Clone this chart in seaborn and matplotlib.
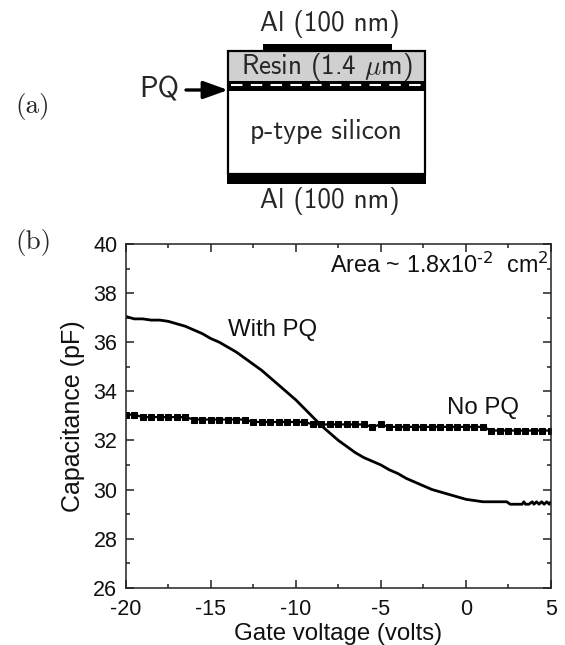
import matplotlib
matplotlib.use('Agg')
import matplotlib.pyplot as plt
from matplotlib.patches import Rectangle
from matplotlib.ticker import MultipleLocator
import pandas as pd
import seaborn as sns

# values
volts_pq = [-20, -19.5, -19, -18.5, -18, -17.5, -17, -16.5, -16, -15.5, -15, -14.5, -14, -13.5,
            -13, -12.5, -12, -11.5, -11, -10.5, -10, -9.5, -9, -8.5, -8, -7.5, -7, -6.5, -6,
            -5.5, -5, -4.5, -4, -3.5, -3, -2.5, -2, -1.5, -1, -0.5, 0, 0.5, 1, 1.5, 2, 2.4,
            2.6, 3, 3.3, 3.4, 3.5, 3.7, 3.9, 4.0, 4.15, 4.3, 4.45, 4.6, 4.75, 4.9, 5]
cap_pq = [37.05, 36.95, 36.95, 36.9, 36.9, 36.85, 36.75, 36.65, 36.5, 36.35, 36.15, 36.0, 35.8, 35.6,
          35.35, 35.1, 34.85, 34.55, 34.25, 33.95, 33.65, 33.3, 32.95, 32.6, 32.3, 32.0, 31.75, 31.5, 31.3,
          31.15, 31.0, 30.8, 30.65, 30.45, 30.3, 30.15, 30.0, 29.9, 29.8, 29.7, 29.6, 29.55, 29.5, 29.5, 29.5, 29.5,
          29.4, 29.4, 29.4, 29.5, 29.4, 29.4, 29.5, 29.4, 29.5, 29.4, 29.5, 29.4, 29.5, 29.4, 29.5]

volts_nopq = [-20 + 0.5 * i for i in range(51)]
cap_nopq = [33.05, 33.05, 32.95, 32.95, 32.95, 32.95, 32.95, 32.95, 32.85, 32.85, 32.85, 32.85, 32.85, 32.85, 32.85,
            32.75, 32.75, 32.75, 32.75, 32.75, 32.75, 32.75, 32.65, 32.65, 32.65, 32.65, 32.65, 32.65, 32.65, 32.55,
            32.65, 32.55, 32.55, 32.55, 32.55, 32.55, 32.55, 32.55, 32.55, 32.55, 32.55, 32.55, 32.55, 32.4, 32.4,
            32.4, 32.4, 32.4, 32.4, 32.4, 32.4]

x_ticks = [-20, -15, -10, -5, 0, 5]
y_ticks = [26, 28, 30, 32, 34, 36, 38, 40]

sns.set_theme(style="ticks")
plt.rcParams['font.family'] = ['Liberation Sans', 'DejaVu Sans']
plt.rcParams['mathtext.fontset'] = 'cm'
plt.rcParams['axes.unicode_minus'] = False

W, H = 565, 645
fig = plt.figure(figsize=(W / 100, H / 100), dpi=100, facecolor='white')

### panel b
ax = fig.add_axes([125.7 / W, 1 - 587.7 / H, 425.3 / W, 343.7 / H])
df_pq = pd.DataFrame({'v': volts_pq, 'c': cap_pq})
df_no = pd.DataFrame({'v': volts_nopq, 'c': cap_nopq})
sns.lineplot(data=df_pq, x='v', y='c', color='black', lw=2.0, ax=ax)
sns.lineplot(data=df_no, x='v', y='c', color='black', lw=1.6, marker='s', markersize=4.6,
             markeredgecolor='black', ax=ax)

ax.set_xlim(-20, 5)
ax.set_ylim(26, 40)
ax.set_xticks(x_ticks)
ax.set_yticks(y_ticks)
ax.xaxis.set_minor_locator(MultipleLocator(2.5))
ax.yaxis.set_minor_locator(MultipleLocator(1))
ax.tick_params(axis='both', which='major', direction='in', top=True, right=True, length=6, width=1.1,
               labelsize=15.5, color='#222222', labelcolor='#111111')
ax.tick_params(axis='x', which='major', pad=8)
ax.tick_params(axis='y', which='major', pad=6)
ax.tick_params(which='minor', direction='in', top=True, right=True, length=3.2, width=1.1, color='#222222')
for s in ax.spines.values():
    s.set_linewidth(1.1)
    s.set_color('#222222')
ax.set_xlabel('Gate voltage (volts)', fontsize=17.3, color='#111111', labelpad=2)
ax.set_ylabel('Capacitance (pF)', fontsize=18, color='#111111', labelpad=6)

ax.text(-14, 36.5, 'With PQ', fontsize=17.3, color='#111111', ha='left', va='center')
ax.text(-1.1, 33.32, 'No PQ', fontsize=17.3, color='#111111', ha='left', va='center')
ax.text(4.84, 39.14, 'Area ~ 1.8x10$^{\\text{-}2}$  cm$^{2}$', fontsize=16.8, color='#111111',
        ha='right', va='center', math_fontfamily='dejavusans')

### panel a, schematic drawn in picture pixels
sk = fig.add_axes([0, 0, 1, 1], facecolor='none')
sk.set_xlim(0, W)
sk.set_ylim(H, 0)
sk.axis('off')

sk.add_patch(Rectangle((228, 51), 197, 31, fc='#d0d0d0', ec='none'))
sk.add_patch(Rectangle((228, 51), 197, 123, fc='none', ec='black', lw=1.6))
sk.add_patch(Rectangle((263, 44), 129, 7, fc='black', ec='none'))
sk.add_patch(Rectangle((227, 174), 199, 10, fc='black', ec='none'))
# PQ layer: black band with white dashes
sk.add_patch(Rectangle((227.5, 81), 198, 9.5, fc='black', ec='none'))
sk.plot([231, 423], [85.3, 85.3], color='white', lw=1.5, dashes=(5.5, 4), dash_capstyle='butt')
sk.annotate('', xy=(228, 90), xytext=(186, 90),
            arrowprops=dict(arrowstyle='-|>,head_width=0.45,head_length=1.25', color='black', lw=2.4,
                            shrinkA=0, shrinkB=0))

sans = ['cmss10', 'DejaVu Sans']
sk.text(330, 24, 'Al (100 nm)', family=sans, fontsize=19.5, ha='center', va='center')
sk.text(330, 201, 'Al (100 nm)', family=sans, fontsize=19.5, ha='center', va='center')
sk.text(327, 67, 'Resin (1.4 $\\mu$m)', family=sans, fontsize=19.5, ha='center', va='center')
sk.text(326, 131, 'p-type silicon', family=sans, fontsize=19.8, ha='center', va='center')
sk.text(159, 90, 'PQ', family=sans, fontsize=21, ha='center', va='center')
sk.text(15, 106, '(a)', family=['cmr10', 'DejaVu Serif'], fontsize=19.5, ha='left', va='center')
sk.text(15, 243, '(b)', family=['cmr10', 'DejaVu Serif'], fontsize=19.5, ha='left', va='center')

fig.savefig('out.png', dpi=100)
